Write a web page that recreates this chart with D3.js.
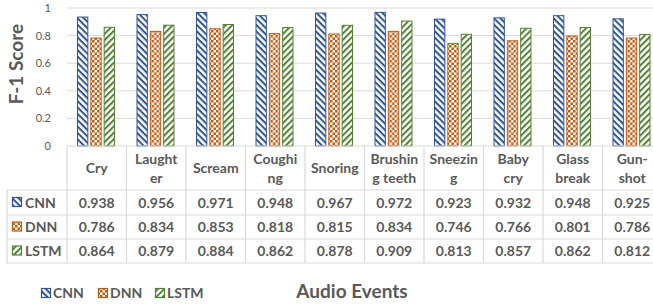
<!DOCTYPE html>
<html>
<head>
<meta charset="utf-8">
<script src="https://cdn.jsdelivr.net/npm/d3@7"></script>
<style>
  html, body { margin: 0; padding: 0; background: #fff; }
  svg { display: block; font-family: Lato, "Open Sans", sans-serif; }
</style>
</head>
<body>
<svg id="chart" width="653" height="305"></svg>
<script>
// data
const categories = ["Cry", "Laughter", "Scream", "Coughing", "Snoring", "Brushing teeth", "Sneezing", "Baby cry", "Glass break", "Gun-shot"];
const headerLines = [["Cry"], ["Laught", "er"], ["Scream"], ["Coughi", "ng"], ["Snoring"], ["Brushin", "g teeth"], ["Sneezin", "g"], ["Baby", "cry"], ["Glass", "break"], ["Gun-", "shot"]];
const seriesNames = ["CNN", "DNN", "LSTM"];
const cnnValues  = [0.938, 0.956, 0.971, 0.948, 0.967, 0.972, 0.923, 0.932, 0.948, 0.925];
const dnnValues  = [0.786, 0.834, 0.853, 0.818, 0.815, 0.834, 0.746, 0.766, 0.801, 0.786];
const lstmValues = [0.864, 0.879, 0.884, 0.862, 0.878, 0.909, 0.813, 0.857, 0.862, 0.812];
const yTicks = [0, 0.2, 0.4, 0.6, 0.8, 1];

const seriesValues = [cnnValues, dnnValues, lstmValues];
const colors = { CNN: "#2F5597", DNN: "#C55A11", LSTM: "#548235" };
const textColor = "#595959";
const lineColor = "#D9D9D9";

const dims = { left: 67, top: 8, bottom: 146, colW: 59.5 };
dims.right = dims.left + dims.colW * categories.length;

const svg = d3.select("#chart");
const defs = svg.append("defs");

// hatch patterns: CNN "\" stripes, LSTM "/" stripes, DNN checker
function stripes(id, angle, color) {
  const p = defs.append("pattern").attr("id", id)
    .attr("patternUnits", "userSpaceOnUse").attr("width", 4.5).attr("height", 4.5)
    .attr("patternTransform", `rotate(${angle})`);
  p.append("rect").attr("width", 4.5).attr("height", 4.5).attr("fill", "#fff");
  p.append("rect").attr("width", 4.5).attr("height", 2).attr("fill", color);
}
stripes("pat-CNN", 45, colors.CNN);
stripes("pat-LSTM", -45, colors.LSTM);

const pDnn = defs.append("pattern").attr("id", "pat-DNN")
  .attr("patternUnits", "userSpaceOnUse").attr("width", 5).attr("height", 5);
pDnn.append("rect").attr("width", 5).attr("height", 5).attr("fill", "#fff");
pDnn.append("rect").attr("width", 2.5).attr("height", 2.5).attr("fill", colors.DNN);
pDnn.append("rect").attr("x", 2.5).attr("y", 2.5).attr("width", 2.5).attr("height", 2.5).attr("fill", colors.DNN);

// scales
const x0 = d3.scaleBand().domain(categories).range([dims.left, dims.right]).padding(0);
const x1 = d3.scaleBand().domain(seriesNames).range([10, 48]).paddingInner(0.15);
const y = d3.scaleLinear().domain([0, 1]).range([dims.bottom, dims.top]);

// gridlines
svg.append("g").selectAll("line").data(yTicks.filter(d => d > 0)).join("line")
  .attr("x1", dims.left).attr("x2", dims.right)
  .attr("y1", d => y(d)).attr("y2", d => y(d))
  .attr("stroke", lineColor).attr("stroke-width", 1);

// y axis labels
const yAxis = svg.append("g").attr("transform", `translate(${dims.left - 16},0)`)
  .call(d3.axisLeft(y).tickValues(yTicks).tickSize(0).tickFormat(d3.format("~g")));
yAxis.select(".domain").remove();
yAxis.selectAll("text").attr("fill", textColor).attr("font-size", 11)
  .attr("font-family", "Lato, sans-serif").attr("x", 0);

svg.append("text")
  .attr("transform", "translate(23,64) rotate(-90)")
  .attr("text-anchor", "middle")
  .attr("fill", textColor).attr("font-weight", "bold").attr("font-size", 19)
  .text("F-1 Score");

// bars
const groups = svg.append("g").selectAll("g").data(categories).join("g")
  .attr("transform", d => `translate(${x0(d)},0)`);
groups.selectAll("rect")
  .data((c, i) => seriesNames.map((s, j) => ({ s, v: seriesValues[j][i] })))
  .join("rect")
  .attr("x", d => x1(d.s) + 0.5)
  .attr("y", d => y(d.v) + 0.5)
  .attr("width", x1.bandwidth() - 1)
  .attr("height", d => y(0) - y(d.v) - 0.5)
  .attr("fill", d => `url(#pat-${d.s})`)
  .attr("stroke", d => colors[d.s]).attr("stroke-width", 1);

// data table
const rowY = [146, 190, 215, 239, 263];
const tableLeft = 7;
const tbl = svg.append("g").attr("stroke", lineColor).attr("stroke-width", 1.2);
tbl.append("line").attr("x1", dims.left).attr("x2", dims.right).attr("y1", rowY[0]).attr("y2", rowY[0]);
rowY.slice(1).forEach(ry => {
  tbl.append("line").attr("x1", tableLeft).attr("x2", dims.right).attr("y1", ry).attr("y2", ry);
});
tbl.append("line").attr("x1", tableLeft).attr("x2", tableLeft).attr("y1", rowY[1]).attr("y2", rowY[4]);
d3.range(categories.length + 1).forEach(i => {
  const xx = dims.left + i * dims.colW;
  tbl.append("line").attr("x1", xx).attr("x2", xx).attr("y1", rowY[0]).attr("y2", rowY[4]);
});

// header labels
const hdr = svg.append("g").attr("fill", textColor).attr("font-weight", "bold").attr("font-size", 14)
  .attr("text-anchor", "middle");
categories.forEach((c, i) => {
  const lines = headerLines[i];
  const cx = x0(c) + x0.bandwidth() / 2;
  const mid = (rowY[0] + rowY[1]) / 2;
  lines.forEach((ln, k) => {
    hdr.append("text").attr("x", cx)
      .attr("y", mid + (k - (lines.length - 1) / 2) * 19)
      .attr("dy", "0.36em").text(ln);
  });
});

// value rows
const fmt = d3.format(".3f");
seriesNames.forEach((s, j) => {
  const cy = (rowY[j + 1] + rowY[j + 2]) / 2;
  const rowG = svg.append("g");
  rowG.append("rect").attr("x", 12.5).attr("y", cy - 5).attr("width", 9).attr("height", 9)
    .attr("fill", `url(#pat-${s})`).attr("stroke", colors[s]).attr("stroke-width", 1.2);
  rowG.append("text").attr("x", 25).attr("y", cy).attr("dy", "0.36em")
    .attr("fill", textColor).attr("font-weight", "bold").attr("font-size", 14).text(s);
  rowG.selectAll("text.v").data(seriesValues[j]).join("text").attr("class", "v")
    .attr("x", (d, i) => x0(categories[i]) + x0.bandwidth() / 2)
    .attr("y", cy).attr("dy", "0.36em").attr("text-anchor", "middle")
    .attr("fill", textColor).attr("font-weight", "bold").attr("font-size", 14)
    .text(d => fmt(d));
});

// legend
const legendX = [41, 98, 155];
const leg = svg.append("g");
seriesNames.forEach((s, j) => {
  leg.append("rect").attr("x", legendX[j] + 0.5).attr("y", 288.5).attr("width", 9).attr("height", 9)
    .attr("fill", `url(#pat-${s})`).attr("stroke", colors[s]).attr("stroke-width", 1.2);
  leg.append("text").attr("x", legendX[j] + 12).attr("y", 293).attr("dy", "0.36em")
    .attr("fill", textColor).attr("font-weight", "bold").attr("font-size", 14).text(s);
});

svg.append("text").attr("x", 352).attr("y", 298)
  .attr("text-anchor", "middle").attr("fill", textColor)
  .attr("font-weight", "bold").attr("font-size", 19).text("Audio Events");
</script>
</body>
</html>
